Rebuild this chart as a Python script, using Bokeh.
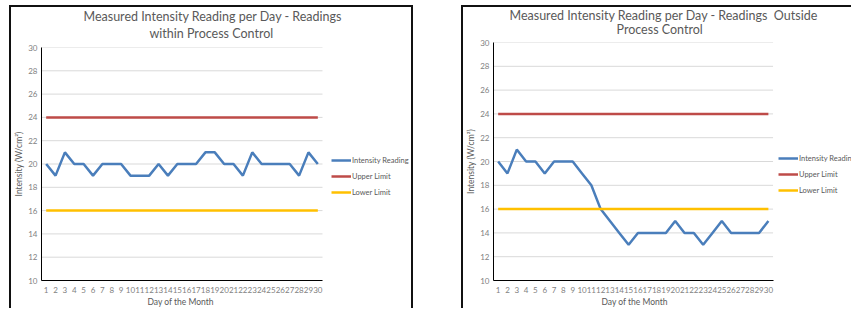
from bokeh.plotting import figure
from bokeh.models import Legend, LegendItem, Title, FixedTicker, Spacer, Range1d
from bokeh.layouts import row, column
from bokeh.embed import file_html
from bokeh.resources import INLINE

# ---- data ----
days = list(range(1, 31))
within_control = [20, 19, 21, 20, 20, 19, 20, 20, 20, 19, 19, 19, 20, 19, 20,
                  20, 20, 21, 21, 20, 20, 19, 21, 20, 20, 20, 20, 19, 21, 20]
outside_control = [20, 19, 21, 20, 20, 19, 20, 20, 20, 19, 18, 16, 15, 14, 13,
                   14, 14, 14, 14, 15, 14, 14, 13, 14, 15, 14, 14, 14, 14, 15]
upper_limit = [24] * 30
lower_limit = [16] * 30
y_ticks = [10, 12, 14, 16, 18, 20, 22, 24, 26, 28, 30]
series_names = ["Intensity Reading", "Upper Limit", "Lower Limit"]
titles_left = ["Measured Intensity Reading per Day - Readings", "within Process Control"]
titles_right = ["Measured Intensity Reading per Day - Readings\u00a0 Outside", "Process Control"]
x_title = "Day of the Month"
y_title = "Intensity (W/cm²)"

FONT = "Lato"
GREY = "#595959"
COLORS = ["#4a7ebb", "#be4b48", "#ffc000"]
PLOT_PX = 278.0          # pixel width of the 30-day plot area
X0, X1 = 0.5, 30.5


def make_chart(titles, values, width, height, mb_left, mb_top, mb_bottom,
               t_offsets, t_standoffs, xt_offset, legend_xy, border_right=True):
    canvas_w = width - 2 - (2 if border_right else 0)
    frame_w = canvas_w - mb_left
    x_end = X0 + frame_w * (X1 - X0) / PLOT_PX
    p = figure(width=width, height=height, output_backend="svg", toolbar_location=None,
               x_range=Range1d(X0, x_end), y_range=Range1d(10, 30),
               min_border_left=mb_left, min_border_right=0,
               min_border_top=mb_top, min_border_bottom=mb_bottom)
    p.background_fill_color = "white"
    p.border_fill_color = "white"
    p.outline_line_color = None
    styles = {"border-top": "2px solid #111", "border-left": "2px solid #111",
              "box-sizing": "border-box"}
    if border_right:
        styles["border-right"] = "2px solid #111"
    p.styles = styles

    p.add_layout(Title(text=titles[1], align="left", offset=t_offsets[1],
                       vertical_align="top", standoff=t_standoffs[1],
                       text_font=FONT, text_font_size="12.5px", text_font_style="normal",
                       text_color=GREY), "above")
    p.add_layout(Title(text=titles[0], align="left", offset=t_offsets[0],
                       vertical_align="bottom", standoff=t_standoffs[0],
                       text_font=FONT, text_font_size="12.5px", text_font_style="normal",
                       text_color=GREY), "above")

    # horizontal gridlines limited to the plot area
    p.segment(x0=[X0] * len(y_ticks), x1=[X1] * len(y_ticks), y0=y_ticks, y1=y_ticks,
              line_color="#d9d9d9", line_width=1)

    r1 = p.line(days, values, line_color=COLORS[0], line_width=2.5)
    r2 = p.line(days, upper_limit, line_color=COLORS[1], line_width=2.5)
    r3 = p.line(days, lower_limit, line_color=COLORS[2], line_width=2.5)

    p.xaxis.ticker = FixedTicker(ticks=days)
    p.xaxis.bounds = (X0, X1)
    p.yaxis.ticker = FixedTicker(ticks=y_ticks)
    for ax in (p.xaxis[0], p.yaxis[0]):
        ax.axis_line_color = "#000000"
        ax.axis_line_width = 1
        ax.major_tick_line_color = None
        ax.minor_tick_line_color = None
        ax.major_tick_out = 0
        ax.major_tick_in = 0
        ax.minor_tick_out = 0
        ax.minor_tick_in = 0
        ax.major_label_text_font = FONT
        ax.major_label_text_font_size = "8px"
        ax.major_label_text_color = "#7f7f7f"
        ax.axis_label_text_font = FONT
        ax.axis_label_text_font_size = "8.5px"
        ax.axis_label_text_font_style = "normal"
        ax.axis_label_text_color = GREY
    p.xaxis.major_label_standoff = 6
    p.yaxis.major_label_standoff = 4
    p.yaxis.axis_label_standoff = 1
    p.yaxis.axis_label = y_title
    p.add_layout(Title(text=x_title, align="left", offset=xt_offset,
                       vertical_align="top", standoff=2,
                       text_font=FONT, text_font_size="8.5px", text_font_style="normal",
                       text_color=GREY), "below")
    p.xgrid.grid_line_color = None
    p.ygrid.grid_line_color = None

    legend = Legend(items=[LegendItem(label=series_names[0], renderers=[r1]),
                           LegendItem(label=series_names[1], renderers=[r2]),
                           LegendItem(label=series_names[2], renderers=[r3])],
                    location=legend_xy, orientation="vertical",
                    label_text_font=FONT, label_text_font_size="7.5px",
                    label_text_color=GREY, glyph_width=20, glyph_height=12,
                    label_height=12, spacing=4, padding=0, margin=0,
                    label_standoff=1, border_line_color=None,
                    background_fill_alpha=0)
    p.add_layout(legend, "center")
    return p


H = 303
p1 = make_chart(titles_left, within_control, 404, H, 30, 40, 30,
                (42, 108), (-5, 9), 106, (290, 82))
p2 = make_chart(titles_right, outside_control, 390, H, 30, 35, 30,
                (16, 123), (-8, 7), 108, (285, 84), border_right=False)

left_block = column(Spacer(height=5, width=404), p1)
right_block = column(Spacer(height=5, width=390), p2)
layout = row(Spacer(width=9, height=H + 5), left_block,
             Spacer(width=48, height=H + 5), right_block)
open("out.html", "w").write(file_html(layout, INLINE))
